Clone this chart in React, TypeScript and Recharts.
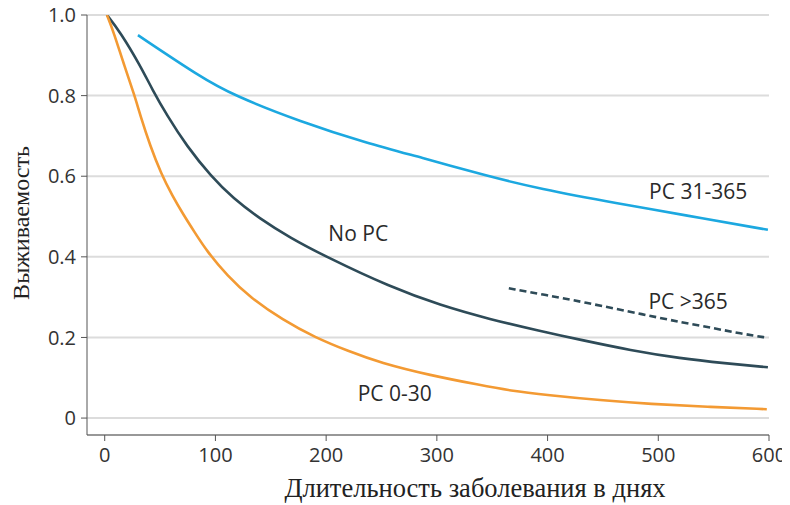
import { LineChart, Line, XAxis, YAxis, CartesianGrid, ReferenceDot, Label } from "recharts";

// days / survival values
const pc0to30Days = [2, 8, 17, 27, 32, 41, 51, 61, 71, 81, 92, 111, 131, 161, 190, 220, 249, 294, 339, 366, 400, 448, 493, 544, 598];
const pc0to30Vals = [1.0, 0.958, 0.88, 0.8, 0.752, 0.676, 0.606, 0.552, 0.505, 0.462, 0.415, 0.352, 0.3, 0.243, 0.2, 0.166, 0.137, 0.106, 0.082, 0.068, 0.057, 0.044, 0.035, 0.028, 0.022];

const noPcDays = [2, 14, 32, 43, 56, 74, 96, 116, 140, 167, 200, 258, 303, 348, 393, 430, 475, 520, 560, 599];
const noPcVals = [1.0, 0.958, 0.875, 0.815, 0.752, 0.675, 0.6, 0.545, 0.495, 0.448, 0.4, 0.325, 0.28, 0.245, 0.216, 0.194, 0.168, 0.148, 0.136, 0.126];

const pc31to365Days = [30, 86, 116, 177, 237, 285, 346, 391, 466, 523, 599];
const pc31to365Vals = [0.95, 0.847, 0.801, 0.735, 0.682, 0.647, 0.6, 0.57, 0.531, 0.504, 0.467];

const pcOver365Days = [365, 399, 430, 490, 520, 550, 574, 599];
const pcOver365Vals = [0.322, 0.305, 0.289, 0.255, 0.238, 0.223, 0.21, 0.199];

const xTicks = [0, 100, 200, 300, 400, 500, 600];
const yTicks = [0, 0.2, 0.4, 0.6, 0.8, 1.0];

const seriesLabels = [
  { text: "No PC", d: 229, v: 0.459 },
  { text: "PC 0-30", d: 262, v: 0.062 },
  { text: "PC 31-365", d: 536, v: 0.563 },
  { text: "PC >365", d: 527, v: 0.288 },
];

const toPoints = (days: number[], vals: number[]) => days.map((d, i) => ({ d, v: vals[i] }));

const ORANGE = "#f39a33";
const DARK = "#2e4b58";
const BLUE = "#1ca8e0";
const SANS = "'Open Sans', sans-serif";
const SERIF = "'Liberation Serif', 'Times New Roman', serif";

export default function App() {
  const tickStyle = { fontFamily: SANS, fontSize: 20, fill: "#333" };

  return (
    <div style={{ marginTop: -8, marginLeft: -8 }}>
      <LineChart width={790} height={505} margin={{ top: 15, right: 21, left: 8, bottom: 8 }}>
        <CartesianGrid horizontal vertical={false} stroke="#dcdcdc" strokeWidth={2} />
        <XAxis
          dataKey="d"
          type="number"
          domain={[-16, 600]}
          ticks={xTicks}
          height={62}
          tick={tickStyle}
          tickSize={6}
          tickMargin={7}
          axisLine={{ stroke: "#555" }}
          tickLine={{ stroke: "#555" }}
          allowDataOverflow
        >
          <Label
            content={() => (
              <text x={475} y={497} textAnchor="middle" fontFamily={SERIF} fontSize={26.5} fill="#222">
                Длительность заболевания в днях
              </text>
            )}
          />
        </XAxis>
        <YAxis
          type="number"
          domain={[-0.042, 1]}
          ticks={yTicks}
          width={79}
          tick={tickStyle}
          tickSize={6}
          tickMargin={5}
          tickFormatter={(t: number) => (t === 0 ? "0" : t.toFixed(1))}
          axisLine={{ stroke: "#555" }}
          tickLine={{ stroke: "#555" }}
          allowDataOverflow
        >
          <Label
            content={() => (
              <text
                x={29}
                y={223}
                transform="rotate(-90 29 223)"
                textAnchor="middle"
                fontFamily={SERIF}
                fontSize={24}
                fill="#222"
              >
                Выживаемость
              </text>
            )}
          />
        </YAxis>

        <Line data={toPoints(pc31to365Days, pc31to365Vals)} dataKey="v" type="basis" stroke={BLUE} strokeWidth={2.6} dot={false} isAnimationActive={false} />
        <Line data={toPoints(pcOver365Days, pcOver365Vals)} dataKey="v" type="basis" stroke={DARK} strokeWidth={2.6} strokeDasharray="7 4" dot={false} isAnimationActive={false} />
        <Line data={toPoints(noPcDays, noPcVals)} dataKey="v" type="basis" stroke={DARK} strokeWidth={2.6} dot={false} isAnimationActive={false} />
        <Line data={toPoints(pc0to30Days, pc0to30Vals)} dataKey="v" type="basis" stroke={ORANGE} strokeWidth={2.6} dot={false} isAnimationActive={false} />

        {seriesLabels.map((l) => (
          <ReferenceDot
            key={l.text}
            x={l.d}
            y={l.v}
            r={0}
            fill="none"
            stroke="none"
            label={{ value: l.text, position: "center", fontFamily: SANS, fontSize: 21, fill: "#2a2a2a" }}
          />
        ))}
      </LineChart>
    </div>
  );
}
